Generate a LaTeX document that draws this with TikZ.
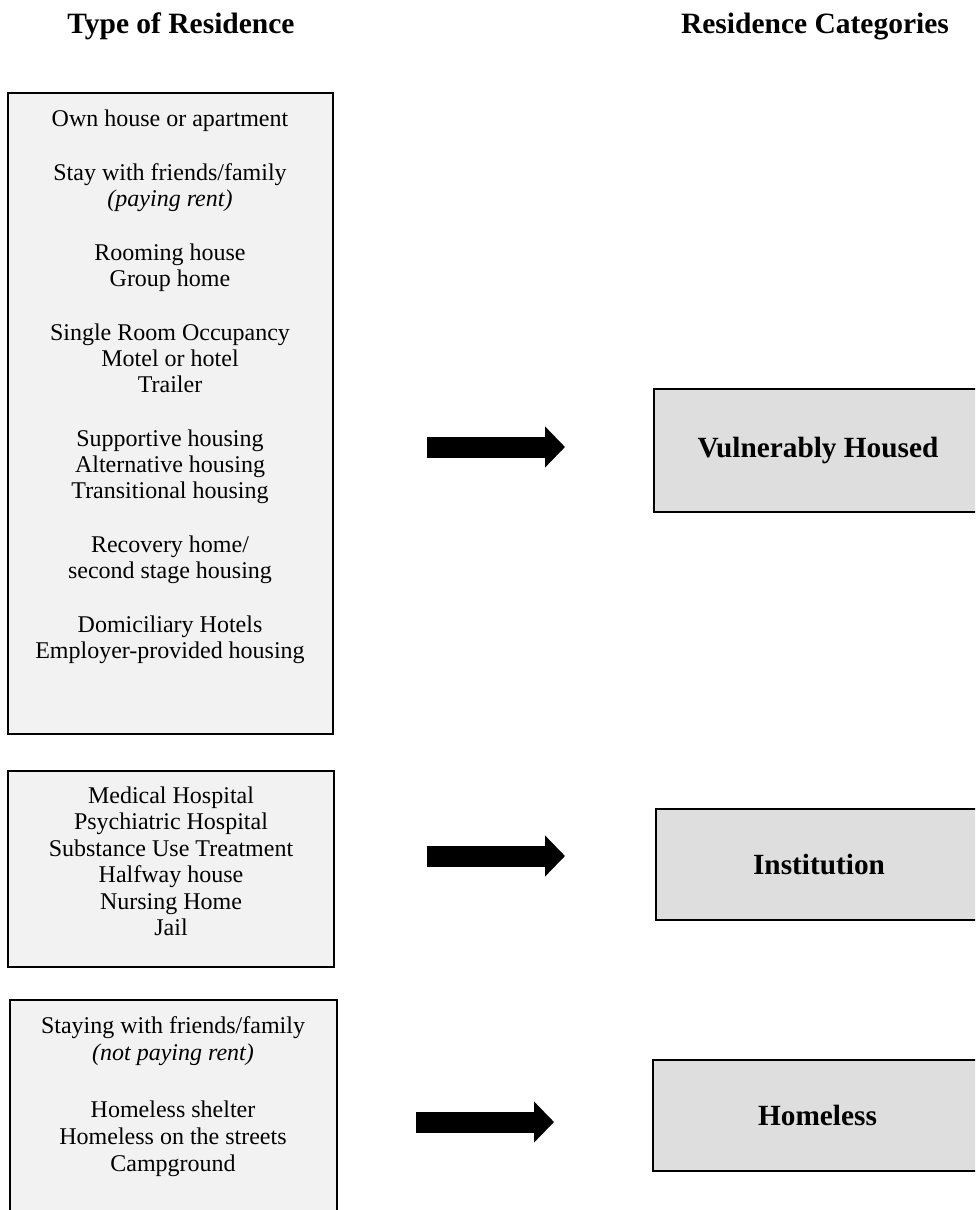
\documentclass[tikz,border=0pt]{standalone}
\usepackage{fontspec}
\setmainfont{Liberation Serif}
\usetikzlibrary{arrows.meta}
\definecolor{srcfill}{HTML}{F2F2F2}
\definecolor{catfill}{HTML}{DEDEDE}
\begin{document}
\begin{tikzpicture}[x=1pt,y=-1pt,
  srcbox/.style={draw=black, line width=1.4pt, fill=srcfill, inner sep=0pt},
  catbox/.style={draw=black, line width=1.4pt, fill=catfill, inner sep=0pt,
    font=\fontsize{29.3}{32}\selectfont\bfseries},
  srctext/.style={align=center, inner sep=0pt, font=\fontsize{24}{26}\selectfont},
  header/.style={anchor=base, inner sep=0pt, font=\fontsize{29.5}{32}\selectfont\bfseries},
  blockarrow/.style={line width=21pt, -{Triangle[length=20pt,width=40pt]}}
]
\useasboundingbox (0,0) rectangle (975,1210);
\clip (0,0) rectangle (975,1210);

% headers
\node[header] (h1) at (181,33) {Type of Residence};
\node[header] (h2) at (815,33) {Residence Categories};

% source boxes
\node[srcbox, minimum width=325pt, minimum height=641pt] (L1) at (170.5,413.5) {};
\node[srctext] (L1t) at (170,386.5) {Own house or apartment\\[28pt]
Stay with friends/family\\ \textit{(paying rent)}\\[28pt]
Rooming house\\ Group home\\[28pt]
Single Room Occupancy\\ Motel or hotel\\ Trailer\\[28pt]
Supportive housing\\ Alternative housing\\ Transitional housing\\[28pt]
Recovery home/\\ second stage housing\\[28pt]
Domiciliary Hotels\\ Employer-provided housing};

\node[srcbox, minimum width=326pt, minimum height=196pt] (L2) at (171,869) {};
\node[srctext, font=\fontsize{24}{26.5}\selectfont] (L2t) at (171,861.5) {Medical Hospital\\ Psychiatric Hospital\\ Substance Use Treatment\\ Halfway house\\ Nursing Home\\ Jail};

\node[srcbox, minimum width=327pt, minimum height=260pt] (L3) at (173.5,1130) {};
\node[srctext, font=\fontsize{24}{27}\selectfont] (L3t) at (173,1097) {Staying with friends/family\\ \textit{(not paying rent)}\\[30pt]
Homeless shelter\\ Homeless on the streets\\ Campground};

% category boxes
\node[catbox, minimum width=328pt, minimum height=123pt] (R1) at (818,450.5) {Vulnerably Housed};
\node[catbox, minimum width=326pt, minimum height=111pt] (R2) at (819,864.5) {Institution};
\node[catbox, minimum width=329pt, minimum height=111pt] (R3) at (817.5,1115.5) {Homeless};

% arrows
\coordinate (a1s) at (427,447); \coordinate (a1e) at (565,447);
\coordinate (a2s) at (427,856); \coordinate (a2e) at (565,856);
\coordinate (a3s) at (416,1122); \coordinate (a3e) at (554,1122);
\draw[blockarrow] (a1s) -- (a1e);
\draw[blockarrow] (a2s) -- (a2e);
\draw[blockarrow] (a3s) -- (a3e);
\end{tikzpicture}
\end{document}
